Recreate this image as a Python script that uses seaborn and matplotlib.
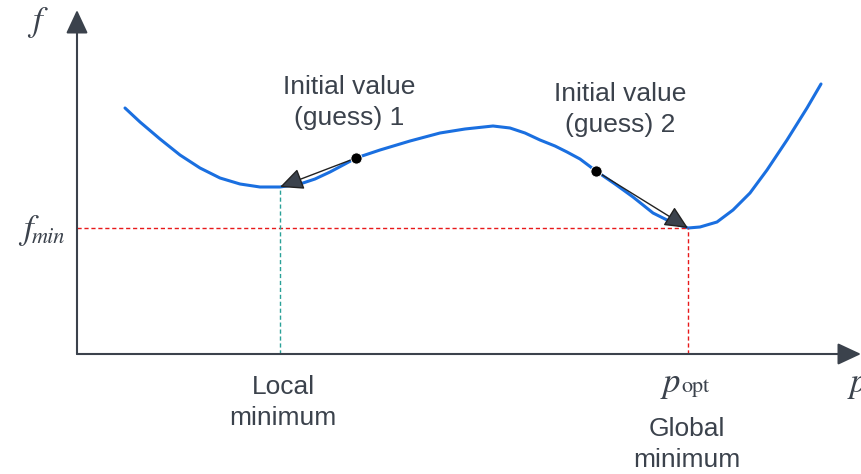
"""
schematic: local vs global minimum of an objective function
"""
import matplotlib

matplotlib.use("Agg")
import matplotlib.pyplot as plt
import pandas as pd
import seaborn as sns

# curve (p, f), origin at the axes corner
curve_p = [48, 63, 83, 103, 123, 143, 163, 183, 203, 223, 238, 253, 268, 279,
           303, 333, 363, 388, 416, 433, 448, 463, 478, 490, 503, 519, 538,
           556, 576, 596, 611, 623, 640, 656, 673, 690, 710, 730, 744]
curve_f = [246, 232, 215, 199, 186, 176, 170, 167, 167, 170, 175, 182, 190,
           196, 204, 213, 221, 225, 228, 226, 221, 214, 208, 202, 195, 183,
           170, 157, 141, 131, 126, 127, 132, 144, 161, 184, 214, 246, 270]

# starting guesses and where they end up
guess_p = [279, 519]
guess_f = [196, 183]
end_p = [203, 611]
end_f = [167, 126]
guess_labels = ["Initial value\n(guess) 1", "Initial value\n(guess) 2"]

local_p = 203
local_f = 167
opt_p = 611
f_min = 126

TEXT = "#3b424c"

sns.set_style("white")
plt.rcParams["font.family"] = ["Liberation Sans", "DejaVu Sans"]

fig = plt.figure(figsize=(8.61, 4.74), dpi=100)
ax = fig.add_axes([0, 0, 1, 1])
ax.set_xlim(-77, 784)
ax.set_ylim(-120, 354)
ax.axis("off")

df = pd.DataFrame({"p": curve_p, "f": curve_f})
sns.lineplot(data=df, x="p", y="f", sort=False, color="#1a6fe0", lw=2.2,
             ax=ax)

# dashed guide lines
ax.plot([0, opt_p], [f_min, f_min], ls=(0, (3, 2)), color="#e8191a", lw=1)
ax.plot([opt_p, opt_p], [0, f_min], ls=(0, (3, 2)), color="#e8191a", lw=1)
ax.plot([local_p, local_p], [0, local_f], ls=(0, (3, 2)), color="#2aa198",
        lw=1)

# axes with arrow heads
head = "-|>,head_length=0.6,head_width=0.28"
axis_arrow = dict(arrowstyle=head, color=TEXT, lw=1.5, mutation_scale=24,
                  shrinkA=0, shrinkB=0)
ax.annotate("", xy=(784, 0), xytext=(0, 0), arrowprops=axis_arrow)
ax.annotate("", xy=(0, 344), xytext=(0, 0), arrowprops=axis_arrow)

# arrows from guesses to the minima they reach
for gp, gf, ep, ef in zip(guess_p, guess_f, end_p, end_f):
    ax.annotate("", xy=(ep, ef), xytext=(gp, gf),
                arrowprops=dict(arrowstyle=head, ec="#222222", lw=1,
                                mutation_scale=24, shrinkA=0, shrinkB=0,
                                fc=TEXT))
sns.scatterplot(x=guess_p, y=guess_f, color="black", s=65, zorder=5, ax=ax)

fs = 19
ls = 1.4
ax.text(272, 251.5, guess_labels[0], ha="center", va="center", fontsize=fs,
        color=TEXT, linespacing=ls)
ax.text(543, 244.5, guess_labels[1], ha="center", va="center", fontsize=fs,
        color=TEXT, linespacing=ls)
ax.text(206, -48.5, "Local\nminimum", ha="center", va="center", fontsize=fs,
        color=TEXT, linespacing=ls)
ax.text(610, -90.5, "Global\nminimum", ha="center", va="center", fontsize=fs,
        color=TEXT, linespacing=ls)

# math style labels
serif = dict(family="STIXGeneral", color=TEXT)
ax.text(-40, 332, "f", ha="center", va="center", fontsize=25,
        style="italic", **serif)
ax.text(-44, 115, "f", ha="right", va="baseline", fontsize=25,
        style="italic", **serif)
ax.text(-45, 111, "min", ha="left", va="baseline", fontsize=16,
        style="italic", **serif)
ax.text(586, -38, "p", ha="left", va="baseline", fontsize=25,
        style="italic", **serif)
ax.text(604, -38, "opt", ha="left", va="baseline", fontsize=16, **serif)
ax.text(773, -38, "p", ha="left", va="baseline", fontsize=25,
        style="italic", **serif)

fig.savefig("out.png", dpi=100)
